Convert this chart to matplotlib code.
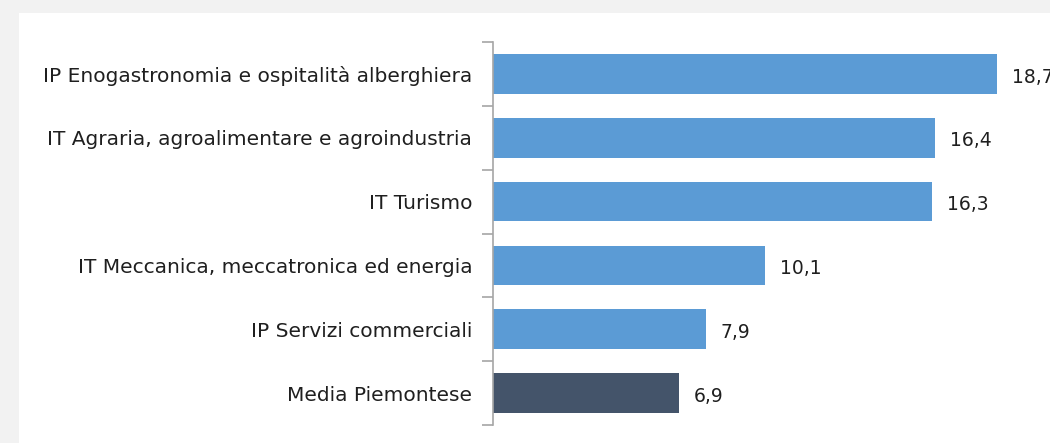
import matplotlib.pyplot as plt
import numpy as np

categories = [
    'IP Enogastronomia e ospitalità alberghiera',
    'IT Agraria, agroalimentare e agroindustria',
    'IT Turismo',
    'IT Meccanica, meccatronica ed energia',
    'IP Servizi commerciali',
    'Media Piemontese',
]
values = [18.7, 16.4, 16.3, 10.1, 7.9, 6.9]
bar_colors = ['#5b9bd5'] * 5 + ['#44546a']

plt.rcParams['font.family'] = ['DejaVu Sans']

W, H = 1050, 443
fig = plt.figure(figsize=(W / 100, H / 100), dpi=100, facecolor='#f2f2f2')

# white panel behind the chart
bg = fig.add_axes([19 / W, 0, 1 - 19 / W, 1 - 13 / H])
bg.axis('off')
bg.add_patch(plt.Rectangle((0, 0), 1, 1, transform=bg.transAxes,
                           facecolor='white', edgecolor='none'))

ax = fig.add_axes([493 / W, 1 - 425 / H, 1 - 493 / W, (425 - 42) / H])
ax.set_facecolor('none')

y_pos = np.arange(len(categories))
ax.barh(y_pos, values, height=0.62, color=bar_colors, align='center')
ax.set_ylim(len(categories) - 0.5, -0.5)
ax.set_xlim(0, 557 / 26.95)

for y, v in zip(y_pos, values):
    ax.text(v + 0.55, y + 0.05, '{:.1f}'.format(v).replace('.', ','),
            va='center', ha='left', fontsize=13.5, color='#1f1f1f')

ax.set_yticks(y_pos)
ax.set_yticklabels(categories, fontsize=14.5, color='#1f1f1f')
ax.tick_params(axis='y', which='major', length=0, pad=15)
ax.set_yticks(np.arange(-0.5, len(categories)), minor=True)
ax.tick_params(axis='y', which='minor', length=8, color='#a6a6a6', width=1.2)
ax.set_xticks([])

for s in ['top', 'right', 'bottom']:
    ax.spines[s].set_visible(False)
ax.spines['left'].set_color('#a6a6a6')
ax.spines['left'].set_linewidth(1.2)

fig.savefig('out.png', dpi=100, facecolor=fig.get_facecolor())
